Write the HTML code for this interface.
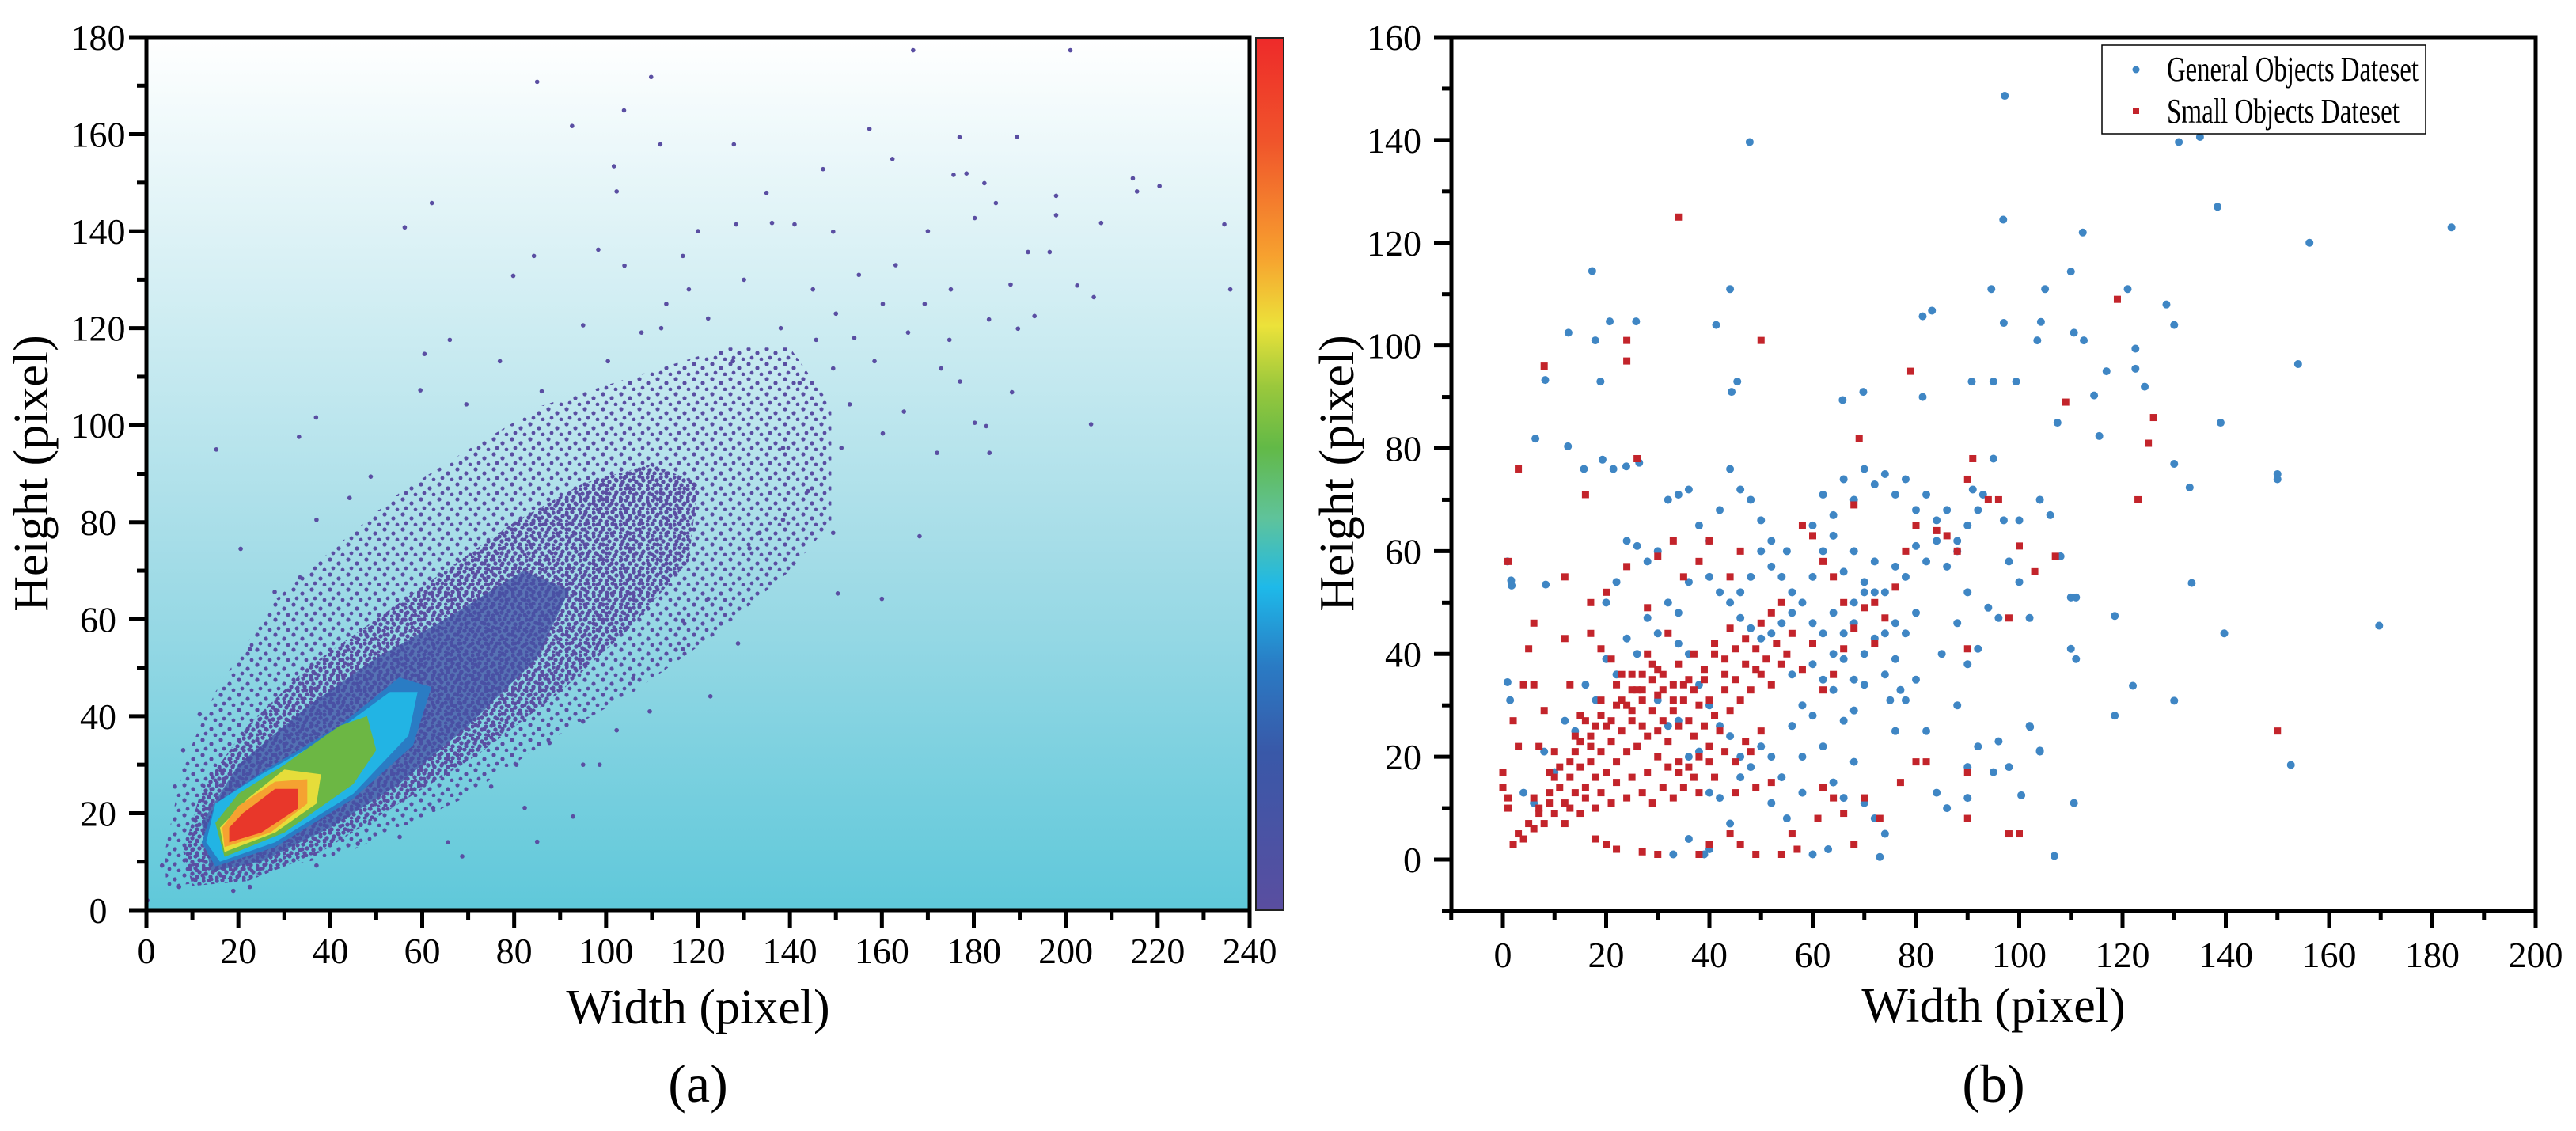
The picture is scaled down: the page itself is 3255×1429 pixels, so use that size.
<!DOCTYPE html>
<html><head><meta charset="utf-8"><title>Object size distributions</title>
<style>
html,body{margin:0;padding:0;background:#fff;}
svg{display:block;font-family:"Liberation Serif","Times New Roman",serif;}
</style></head>
<body>
<svg id="fig" width="3255" height="1429" viewBox="0 0 3255 1429" xmlns="http://www.w3.org/2000/svg">
<defs>
<linearGradient id="bgA" x1="0" y1="0" x2="0" y2="1">
<stop offset="0" stop-color="#ffffff"/><stop offset="0.3" stop-color="#d2eef3"/><stop offset="0.6" stop-color="#a3dce7"/><stop offset="1" stop-color="#5fc8da"/>
</linearGradient>
<linearGradient id="cbar" x1="0" y1="0" x2="0" y2="1">
<stop offset="0" stop-color="#ee2a2a"/><stop offset="0.12" stop-color="#f0552b"/><stop offset="0.25" stop-color="#f7a12f"/><stop offset="0.33" stop-color="#ece23a"/><stop offset="0.4" stop-color="#9ac83c"/><stop offset="0.47" stop-color="#62b947"/><stop offset="0.55" stop-color="#5fc39a"/><stop offset="0.63" stop-color="#1eb9e9"/><stop offset="0.72" stop-color="#2a7bc4"/><stop offset="0.82" stop-color="#3958a8"/><stop offset="1" stop-color="#5a4ea0"/>
</linearGradient>
<pattern id="speck" patternUnits="userSpaceOnUse" width="23" height="19">
<circle cx="3" cy="4" r="2.6" fill="#5a4ea2"/><circle cx="14" cy="9" r="2.6" fill="#5a4ea2"/><circle cx="7" cy="15" r="2.4" fill="#5a4ea2"/><circle cx="19" cy="17" r="2.4" fill="#5a4ea2"/>
</pattern>
<pattern id="speck2" patternUnits="userSpaceOnUse" width="17" height="15">
<circle cx="2" cy="3" r="2.7" fill="#5a4ea2"/><circle cx="9" cy="2" r="2.7" fill="#5a4ea2"/><circle cx="14" cy="7" r="2.7" fill="#5a4ea2"/><circle cx="5" cy="9" r="2.7" fill="#5a4ea2"/><circle cx="11" cy="13" r="2.7" fill="#5a4ea2"/><circle cx="2" cy="14" r="2.5" fill="#5a4ea2"/>
</pattern>
<clipPath id="clipA"><rect x="185" y="47" width="1394" height="1103"/></clipPath>
</defs>

<g id="panelA">
<rect x="185" y="47" width="1394" height="1103" fill="url(#bgA)"/>
<g id="densA" clip-path="url(#clipA)"></g>
<g id="ptsA" clip-path="url(#clipA)"></g>
<rect x="185" y="47" width="1394" height="1103" fill="none" stroke="#000" stroke-width="5"/>
<g id="axA"></g>
<rect x="1587" y="48" width="35" height="1102" fill="url(#cbar)" stroke="#222" stroke-width="2"/>
<text x="882" y="1293" font-size="62" text-anchor="middle">Width (pixel)</text>
<text transform="translate(60,598) rotate(-90)" font-size="62" text-anchor="middle">Height (pixel)</text>
<text x="882" y="1392" font-size="68" text-anchor="middle">(a)</text>
</g>

<g id="panelB">
<g id="ptsB"></g>
<rect x="1834" y="47" width="1370" height="1104" fill="none" stroke="#000" stroke-width="5"/>
<g id="axB"></g>
<g>
<rect x="2656" y="57" width="409" height="112" fill="#fff" stroke="#000" stroke-width="1.5"/>
<circle cx="2699" cy="88" r="4.5" fill="#3f86c4"/>
<text x="2738" y="102" font-size="44" textLength="318" lengthAdjust="spacingAndGlyphs">General Objects Dateset</text>
<rect x="2695" y="136" width="8" height="8" fill="#c3242b"/>
<text x="2738" y="155" font-size="44" textLength="294" lengthAdjust="spacingAndGlyphs">Small Objects Dateset</text>
</g>
<text x="2519" y="1291" font-size="62" text-anchor="middle">Width (pixel)</text>
<text transform="translate(1710,598) rotate(-90)" font-size="62" text-anchor="middle">Height (pixel)</text>
<text x="2519" y="1392" font-size="68" text-anchor="middle">(b)</text>
</g>
</svg>
<script>
// ---------- Panel (a) data ----------
const ticksAX = [0,20,40,60,80,100,120,140,160,180,200,220,240];
const ticksAY = [0,20,40,60,80,100,120,140,160,180];
const outerCloudA = [[4,12],[8,30],[15,45],[28,64],[40.6,74.5],[55,86],[70,95],[86,104],[106,110],[126,116],[140,116],[149,104],[149,80],[140,70],[124,57],[106,45],[86,34],[68,22.6],[44,12],[22,7],[4.3,4.8]];
const innerCloudA = [[8,12],[12,25],[22,38],[35,50],[50,60],[65,70],[80,80],[95,88],[110,92],[120,88],[118,72],[105,58],[90,45],[72,32],[55,22],[38,12],[22,6],[10,5]];
const darkBlueA = [[14,8],[25,10],[40,17],[55,26],[70,38],[85,52],[92,66],[82,70],[65,60],[50,52],[35,42],[20,30],[12,18]];
const blueA = [[15,9],[28,13],[45,23],[58,34],[62,46],[55,48],[42,38],[26,29],[15,22],[12,14]];
const lightBlueA = [[16,10],[28,14],[45,24],[57,36],[59,45],[53,45],[40,36],[25,28],[15,22],[13,14]];
const greenA = [[17,11],[30,16],[45,26],[50,33],[48,40],[42,38],[30,30],[20,24],[15,18]];
const yellowA = [[17,12],[28,16],[37,22],[38,28],[30,29],[22,23],[16,17]];
const orangeA = [[17,13],[27,16],[35,22],[35,27],[28,26.5],[20,21.5],[16.5,17]];
const redA = [[18,14],[25,16],[33,21],[33,25],[28,25],[21,20],[18,17]];
const pointsA = [[0.2,2],[15.2,95],[20.5,74.5],[33.2,97.6],[36.9,101.6],[56.2,140.8],[62.1,145.8],[84.3,134.9],[85,170.8],[92.6,161.7],[103.9,164.9],[109.8,171.8],[111.8,157.9],[101.7,153.4],[102.3,148.2],[79.8,130.8],[98.3,136.2],[104,132.9],[116.7,134.9],[127.8,157.9],[128.3,141.4],[134.9,147.9],[136.1,141.7],[141,141.4],[149.4,139.9],[147.2,152.8],[157.3,161.1],[162.3,154.9],[166.8,177.3],[176.9,159.4],[178.4,151.9],[175.6,151.6],[180.2,142.7],[182.3,149.9],[184.8,145.8],[189.4,159.5],[201,177.3],[197.9,147.3],[197.9,143.3],[191.8,135.7],[196.5,135.7],[193.2,122.5],[189.6,119.9],[188.3,106.8],[202.5,128.8],[206.1,126.4],[205.5,100.2],[207.7,141.7],[214.6,150.9],[215.5,148.2],[220.4,149.3],[234.5,141.4],[235.8,128],[183.3,121.8],[182.7,99.8],[183.4,94.3],[172,94.3],[168.2,77.1],[160,64.2],[150.4,65.3],[149.4,77.8],[128.7,55],[122.7,44.1],[109.5,41],[102.3,37.1],[92.8,19.3],[85,14.1],[82.3,21.1],[68.7,11.1],[65.6,14],[95,30],[98.6,30],[133.4,77.8],[180.2,100.5],[164.8,102.8],[172.9,111.7],[174.7,117.6],[165.7,119.1],[160.2,125],[169.3,125],[158.4,113.2],[149.4,111.7],[145.7,117.6],[142.1,108.7],[153,104.3],[138.5,95.3],[151.2,95.3],[160.2,98.3],[143.9,86.4],[138.5,80.5],[131.2,74.6],[122.2,64.2],[116.7,59.7],[95,120.6],[86,107],[76.9,113.2],[69.6,104.3],[60.5,114.7],[59.6,107.2],[66,117.6],[113.1,125],[122.2,122],[127.6,113.2],[107.7,119.1],[100.4,113.2],[44.2,85],[48.8,89.4],[37,80.5],[27.9,65.6],[22.5,53.8],[33.4,68.6],[11.6,40.4],[8,33],[6.2,25.5],[3.4,9.2],[7.1,4.8],[18.9,4],[22.5,4.8],[37,9.2],[46,13.7],[55.1,15.1],[62.4,21.1],[75,25.5],[80.5,30],[87.7,34.5],[95,38.9],[105.9,47.8],[116.7,53.8],[155,131],[150,123],[145,128],[163,133],[170,140],[120,140],[118,128],[130,130],[112,120],[154,118],[138,120],[175,128],[177,109],[188,129]];

// ---------- Panel (b) data ----------
const ticksBX = [0,20,40,60,80,100,120,140,160,180,200];
const ticksBY = [0,20,40,60,80,100,120,140,160];
const generalB = [[97.2,148.6],[47.8,139.6],[135,140.6],[130.9,139.6],[96.9,124.5],[138.4,127],[183.7,123],[156.2,120],[112.3,122],[17.3,114.5],[44,111],[110,114.4],[121,111],[94.6,111],[105,111],[128.5,108],[20.7,104.7],[25.8,104.7],[12.7,102.5],[17.9,101],[41.3,104],[97,104.4],[104.2,104.6],[130,104],[110.6,102.5],[112.5,101],[103.5,101],[81.3,90],[83.1,106.8],[81.3,105.7],[8.2,93.3],[18.9,93],[45.4,93],[44.3,91],[69.8,91],[65.8,89.4],[90.8,93],[95,93],[99.4,93],[116.9,95],[154,96.4],[150,75],[150,74],[139,85],[114.5,90.3],[107.4,85],[124.3,92],[122.5,99.4],[122.5,95.5],[115.5,82.4],[130,77],[133,72.4],[139.7,44],[169.7,45.5],[152.6,18.4],[133.4,53.8],[118.5,47.4],[122,33.8],[130,30.9],[118.5,28],[102.1,25.8],[104,21.2],[100.4,12.5],[110.6,11],[106.8,0.7],[6.3,81.9],[12.6,80.4],[15.7,76],[19.3,77.8],[21.4,76],[23.9,76.5],[26.4,77.2],[0.9,58],[1.6,54.3],[1.7,53.3],[8.3,53.5],[0.9,34.5],[1.4,31],
[60,65],[62,71],[64,67],[66,74],[68,70],[70,76],[72,73],[74,75],[76,71],[78,74],[80,68],[82,71],[84,66],[86,68],[88,62],[90,65],[62,60],[64,63],[66,56],[68,60],[70,54],[72,58],[74,52],[76,57],[78,55],[80,61],[82,58],[84,62],[86,57],[88,60],[90,52],[60,55],[58,50],[56,48],[54,46],[52,44],[50,43],[48,45],[46,47],[44,50],[42,52],[40,55],[36,54],[34,48],[32,50],[30,44],[28,47],[26,40],[24,43],[22,36],[20,39],[18,31],[16,34],[14,25],[12,27],[10,17],[8,21],[6,11],[4,13],[64,48],[66,44],[68,46],[70,40],[72,43],[74,36],[76,39],[78,31],[80,35],[82,25],[84,13],[86,10],[88,30],[90,18],[92,41],[94,49],[96,47],[98,58],[100,54],[102,47],[56,36],[58,30],[60,28],[62,22],[64,15],[66,12],[68,19],[70,11],[72,8],[74,5],[76,25],[78,44],[80,48],[55,60],[52,62],[50,66],[48,70],[46,72],[44,76],[42,68],[40,62],[38,65],[36,72],[34,71],[32,70],[30,60],[28,58],[26,61],[24,62],[22,54],[20,50],[34,42],[36,40],[38,34],[40,30],[42,26],[44,24],[46,20],[48,18],[50,22],[52,20],[54,16],[56,26],[58,20],[60,38],[62,35],[64,33],[66,27],[68,29],[70,34],[72,52],[74,44],[76,46],[60,46],[62,44],[64,40],[66,39],[68,50],[70,52],[56,52],[54,55],[52,57],[50,60],[48,55],[46,52],[30,31],[32,26],[34,27],[36,20],[38,21],[40,13],[42,12],[44,7],[46,16],[36,4],[40,2],[33,1],[39,1],[60,1],[63,2],[73,0.5],[52,11],[55,8],[58,13],[68,35],[75,31],[77,33],[85,40],[88,46],[90,38],[92,22],[95,17],[90,12],[96,23],[98,18],[91,72],[93,71],[95,78],[97,66],[92,68],[100,66],[104,70],[106,67],[108,59],[110,51],[111,51],[111,39],[110,41],[104,21],[102,26]];
const smallB = [[1,58],[3,76],[8,96],[24,97],[24,101],[26,78],[50,101],[34,125],[16,71],[17,50],[12,55],[20,52],[30,59],[28,49],[24,57],[33,62],[38,58],[40,62],[44,55],[46,60],[35,55],[0,17],[0,14],[1,12],[1,10],[2,27],[3,22],[4,34],[5,41],[6,34],[6,46],[7,22],[8,29],[9,17],[10,21],
[2,3],[3,5],[4,4],[5,7],[6,6],[7,9],[8,7],[9,11],[10,9],[11,14],[12,11],[13,16],[14,13],[15,18],[16,14],[17,19],[18,16],[19,21],[20,17],[21,23],[22,19],[23,25],[24,21],[25,27],[26,22],[27,26],[28,24],[29,29],[30,25],[31,27],[32,23],[33,29],[34,26],[35,31],[36,27],[37,24],[38,30],[39,26],[40,31],[41,28],[42,25],[43,33],[44,29],[45,35],[46,31],[47,38],[48,33],[49,41],[50,36],[51,39],[52,34],[53,42],[54,38],[55,40],
[6,12],[7,10],[9,13],[10,16],[11,18],[13,19],[14,21],[15,23],[17,24],[18,26],[19,28],[21,27],[22,30],[23,31],[25,29],[26,33],[27,31],[29,35],[30,32],[31,36],[33,34],[34,38],[36,35],[37,40],[39,37],[41,42],[43,39],[44,45],
[14,24],[16,27],[17,22],[19,31],[20,26],[22,34],[24,30],[25,36],[27,33],[28,40],[30,37],[32,44],
[12,7],[13,10],[15,9],[16,12],[18,10],[19,13],[21,11],[22,15],[24,12],[25,16],[27,13],[28,17],[29,11],[31,14],[33,12],[34,17],[35,14],[37,16],[38,13],[40,19],[41,16],[43,21],[45,19],[47,23],[48,21],[50,25],
[18,4],[20,3],[22,2],[27,1.5],[30,1],[38,1],[40,3],[44,5],[46,3],[49,1],[54,1],[57,2],[45,13],[49,14],[52,15],[56,5],[61,8],[62,14],[64,12],[66,9],[68,3],[70,12],[73,8],[80,19],[82,19],[90,17],[90,8],[98,5],[100,5],[96,70],[98,47],[88,60],[84,64],[80,65],[78,60],[76,53],[74,47],[72,42],[70,49],[68,45],[66,41],[64,36],[62,33],[60,42],[58,37],[56,44],[54,50],[52,48],[50,46],[60,63],[58,65],[62,58],[64,55],[66,50],[90,74],[91,78],[94,70],[90,41],[100,61],[103,56],[107,59],[109,89],[119,109],[123,70],[125,81],[126,86],[150,25],[77,15],[79,95],[69,82],[68,69],[72,50],[86,63],[15,28],[13,34],[12,43],[17,44],[19,41],[21,39],[23,36],[25,33],[27,36],[29,38],[31,33],[33,31],[35,34],[37,33],[39,35],[41,40],[43,36],[45,41],[47,43],[49,37],[30,20],[32,18],[34,19],[36,18],[38,20],[40,22]];

const NS = "http://www.w3.org/2000/svg";
function xA(v){return 185 + v*1394/240;}
function yA(v){return 1150 - v*1103/180;}
function xB(v){return 1899 + v*6.525;}
function yB(v){return 1086 - v*1039/160;}
function mk(tag, parent){const e=document.createElementNS(NS,tag);parent.appendChild(e);return e;}

const densA = document.getElementById('densA');
const layers = [[outerCloudA,'url(#speck)',1,'outer-cloud'],[innerCloudA,'url(#speck2)',1,'inner-cloud'],[darkBlueA,'#4451a4',0.75,'density-dark-blue'],[blueA,'#2a7cc4',1,'density-blue'],[lightBlueA,'#22b4e4',1,'density-light-blue'],[greenA,'#6cb744',1,'density-green'],[yellowA,'#e6dd3a',1,'density-yellow'],[orangeA,'#f5a231',1,'density-orange'],[redA,'#e8372a',1,'density-red']];
layers.forEach(L=>{
  const p = mk('polygon', densA);
  p.setAttribute('points', L[0].map(d=>xA(d[0]).toFixed(1)+','+yA(d[1]).toFixed(1)).join(' '));
  p.setAttribute('fill', L[1]);
  p.setAttribute('opacity', L[2]);
  p.setAttribute('stroke-linejoin','round');
  
  
});
const ptsA = document.getElementById('ptsA');
pointsA.forEach(d=>{
  const c = mk('circle', ptsA);
  c.setAttribute('cx', xA(d[0])); c.setAttribute('cy', yA(d[1])); c.setAttribute('r', 2.8); c.setAttribute('fill', '#5a4ea2');
  
  
});

const axA = document.getElementById('axA');
for(let v=0; v<=240; v+=10){
  const major = v%20===0;
  const l = mk('line', axA);
  l.setAttribute('x1', xA(v)); l.setAttribute('x2', xA(v)); l.setAttribute('y1', 1150); l.setAttribute('y2', 1150+(major?22:12));
  l.setAttribute('stroke','#000'); l.setAttribute('stroke-width',5);
  
  
}
ticksAX.forEach(v=>{
  const t = mk('text', axA);
  t.setAttribute('x', xA(v)); t.setAttribute('y', 1217); t.setAttribute('font-size', 46); t.setAttribute('text-anchor','middle');
  t.textContent = v;
  
  
});
for(let v=0; v<=180; v+=10){
  const major = v%20===0;
  const l = mk('line', axA);
  l.setAttribute('y1', yA(v)); l.setAttribute('y2', yA(v)); l.setAttribute('x1', 185); l.setAttribute('x2', 185-(major?22:12));
  l.setAttribute('stroke','#000'); l.setAttribute('stroke-width',5);
  
  
}
ticksAY.forEach(v=>{
  const t = mk('text', axA);
  t.setAttribute('x', 124); t.setAttribute('y', yA(v)+16); t.setAttribute('font-size', 46); t.setAttribute('text-anchor','middle');
  t.textContent = v;
  
  
});

const ptsB = document.getElementById('ptsB');
generalB.forEach(d=>{
  const c = mk('circle', ptsB);
  c.setAttribute('cx', xB(d[0])); c.setAttribute('cy', yB(d[1])); c.setAttribute('r', 5); c.setAttribute('fill', '#3f86c4');
  
  
});
smallB.forEach(d=>{
  const r = mk('rect', ptsB);
  r.setAttribute('x', xB(d[0])-4.5); r.setAttribute('y', yB(d[1])-4.5); r.setAttribute('width', 9); r.setAttribute('height', 9); r.setAttribute('fill', '#c3242b');
  
  
});

const axB = document.getElementById('axB');
for(let v=-10; v<=200; v+=10){
  const major = v%20===0;
  const l = mk('line', axB);
  l.setAttribute('x1', xB(v)); l.setAttribute('x2', xB(v)); l.setAttribute('y1', 1151); l.setAttribute('y2', 1151+(major?22:12));
  l.setAttribute('stroke','#000'); l.setAttribute('stroke-width',5);
  
  
}
ticksBX.forEach(v=>{
  const t = mk('text', axB);
  t.setAttribute('x', xB(v)); t.setAttribute('y', 1222); t.setAttribute('font-size', 46); t.setAttribute('text-anchor','middle');
  t.textContent = v;
  
  
});
for(let v=-10; v<=160; v+=10){
  const major = v%20===0;
  const l = mk('line', axB);
  l.setAttribute('y1', yB(v)); l.setAttribute('y2', yB(v)); l.setAttribute('x1', 1834); l.setAttribute('x2', 1834-(major?22:12));
  l.setAttribute('stroke','#000'); l.setAttribute('stroke-width',5);
  
  
}
ticksBY.forEach(v=>{
  const t = mk('text', axB);
  t.setAttribute('x', 1796); t.setAttribute('y', yB(v)+16); t.setAttribute('font-size', 46); t.setAttribute('text-anchor','end');
  t.textContent = v;
  
  
});
</script>
</body></html>
